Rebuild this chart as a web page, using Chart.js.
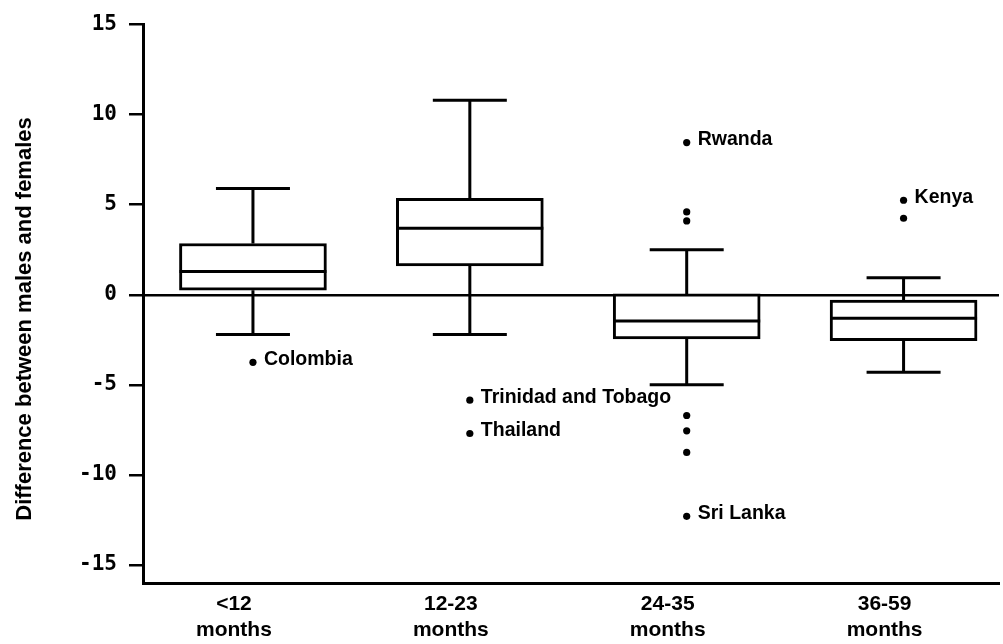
<!DOCTYPE html>
<html>
<head>
<meta charset="utf-8">
<title>Difference between males and females by age group</title>
<script src="https://cdn.jsdelivr.net/npm/chart.js@4.4.1/dist/chart.umd.min.js"></script>
<style>
  html, body { margin: 0; padding: 0; background: #fff; overflow: hidden; }
  #wrap { width: 1003px; height: 644px; position: relative; }
</style>
</head>
<body>
<div id="wrap"><canvas id="chart"></canvas></div>
<script>
// Age groups (two-line axis labels)
const ageGroups = [['<12', 'months'], ['12-23', 'months'], ['24-35', 'months'], ['36-59', 'months']];

// Box-plot summary per age group
const whiskerLow  = [-2.2, -2.2, -5.0, -4.3];
const quartile1   = [0.25, 1.6, -2.45, -2.55];
const medians     = [1.3, 3.7, -1.45, -1.3];
const quartile3   = [2.85, 5.35, 0.05, -0.3];
const whiskerHigh = [5.9, 10.8, 2.5, 0.95];

// Outlying countries: age group (1-based), value, name ('' = unnamed)
const outlierGroup = [1, 2, 2, 3, 3, 3, 3, 3, 3, 3, 4, 4];
const outlierValue = [-3.75, -5.85, -7.7, 8.45, 4.6, 4.1, -6.7, -7.55, -8.75, -12.3, 5.25, 4.25];
const outlierName  = ['Colombia', 'Trinidad and Tobago', 'Thailand', 'Rwanda', '', '', '', '', '', 'Sri Lanka', 'Kenya', ''];

const yTicks = [-15, -10, -5, 0, 5, 10, 15];
const yTitle = 'Difference between males and females';

const INK = '#000';
const SANS = "'Liberation Sans', Arial, sans-serif";
const MONO = "'DejaVu Sans Mono', monospace";

// Whiskers and caps, drawn underneath the boxes
const whiskerPlugin = {
  id: 'whiskers',
  beforeDatasetsDraw(chart) {
    const { ctx, scales: { x, y } } = chart;
    const capHalf = 37;
    ctx.save();
    ctx.strokeStyle = INK;
    ctx.lineWidth = 3;
    ctx.lineCap = 'butt';
    ageGroups.forEach((_, i) => {
      const px = x.getPixelForValue(i + 1);
      const hi = y.getPixelForValue(whiskerHigh[i]);
      const lo = y.getPixelForValue(whiskerLow[i]);
      const q1 = y.getPixelForValue(quartile1[i]);
      const q3 = y.getPixelForValue(quartile3[i]);
      ctx.beginPath();
      ctx.moveTo(px, q3); ctx.lineTo(px, hi);
      ctx.moveTo(px, q1); ctx.lineTo(px, lo);
      ctx.moveTo(px - capHalf, hi); ctx.lineTo(px + capHalf, hi);
      ctx.moveTo(px - capHalf, lo); ctx.lineTo(px + capHalf, lo);
      ctx.stroke();
    });
    ctx.restore();
  }
};

// Median lines across each box, plus names beside the outlying points
const medianAndNamesPlugin = {
  id: 'medianAndNames',
  afterDatasetsDraw(chart) {
    const { ctx, scales: { y } } = chart;
    ctx.save();
    const boxes = chart.getDatasetMeta(0).data;
    ctx.strokeStyle = INK;
    ctx.lineWidth = 3;
    boxes.forEach((bar, i) => {
      const half = bar.width / 2;
      const py = y.getPixelForValue(medians[i]);
      ctx.beginPath();
      ctx.moveTo(bar.x - half, py);
      ctx.lineTo(bar.x + half, py);
      ctx.stroke();
    });
    const pts = chart.getDatasetMeta(1).data;
    ctx.fillStyle = INK;
    ctx.font = 'bold 19.5px ' + SANS;
    ctx.textAlign = 'left';
    ctx.textBaseline = 'middle';
    pts.forEach((pt, i) => {
      if (outlierName[i]) ctx.fillText(outlierName[i], pt.x + 11, pt.y - 3);
    });
    ctx.restore();
  }
};

// Rotated y-axis title
const yTitlePlugin = {
  id: 'yTitle',
  afterDraw(chart) {
    const { ctx } = chart;
    ctx.save();
    ctx.translate(25, 319);
    ctx.rotate(-Math.PI / 2);
    ctx.fillStyle = INK;
    ctx.font = 'bold 22px ' + SANS;
    ctx.textAlign = 'center';
    ctx.textBaseline = 'middle';
    ctx.fillText(yTitle, 0, 0);
    ctx.restore();
  }
};

new Chart(document.getElementById('chart'), {
  type: 'bar',
  data: {
    datasets: [
      {
        type: 'bar',
        data: ageGroups.map((_, i) => ({ x: i + 1, y: [quartile1[i], quartile3[i]] })),
        backgroundColor: '#fff',
        borderColor: INK,
        borderWidth: 3,
        borderSkipped: false,
        barThickness: 147,
        order: 2
      },
      {
        type: 'scatter',
        data: outlierValue.map((v, i) => ({ x: outlierGroup[i], y: v })),
        backgroundColor: INK,
        borderColor: INK,
        borderWidth: 0,
        pointRadius: 3.6,
        order: 1
      }
    ]
  },
  options: {
    responsive: true,
    maintainAspectRatio: false,
    animation: false,
    layout: { padding: { top: 15, right: 0, bottom: 0, left: 0 } },
    plugins: { legend: { display: false }, tooltip: { enabled: false } },
    scales: {
      x: {
        type: 'linear',
        offset: false,
        min: 0.493,
        max: 4.44,
        afterBuildTicks: s => { s.ticks = ageGroups.map((_, i) => ({ value: i + 1 })); },
        afterFit: s => { s.height = 61; },
        ticks: {
          autoSkip: false,
          maxRotation: 0,
          padding: 8,
          labelOffset: -19,
          color: INK,
          font: { family: SANS, weight: 'bold', size: 21, lineHeight: 1.25 },
          callback: v => ageGroups[v - 1]
        },
        grid: { display: true, drawOnChartArea: false, drawTicks: false },
        border: { display: true, color: INK, width: 3 }
      },
      y: {
        type: 'linear',
        min: -16,
        max: 15,
        afterBuildTicks: s => { s.ticks = yTicks.map(v => ({ value: v })); },
        afterFit: s => { s.width = 143; },
        ticks: {
          padding: 12,
          color: INK,
          font: { family: MONO, weight: 'bold', size: 21 },
          callback: v => String(v)
        },
        grid: {
          drawOnChartArea: true,
          drawTicks: true,
          tickLength: 14,
          lineWidth: 2.5,
          tickColor: INK,
          color: c => (c.tick && c.tick.value === 0) ? INK : 'rgba(0,0,0,0)'
        },
        border: { display: true, color: INK, width: 3 }
      }
    }
  },
  plugins: [whiskerPlugin, medianAndNamesPlugin, yTitlePlugin]
});
</script>
</body>
</html>
